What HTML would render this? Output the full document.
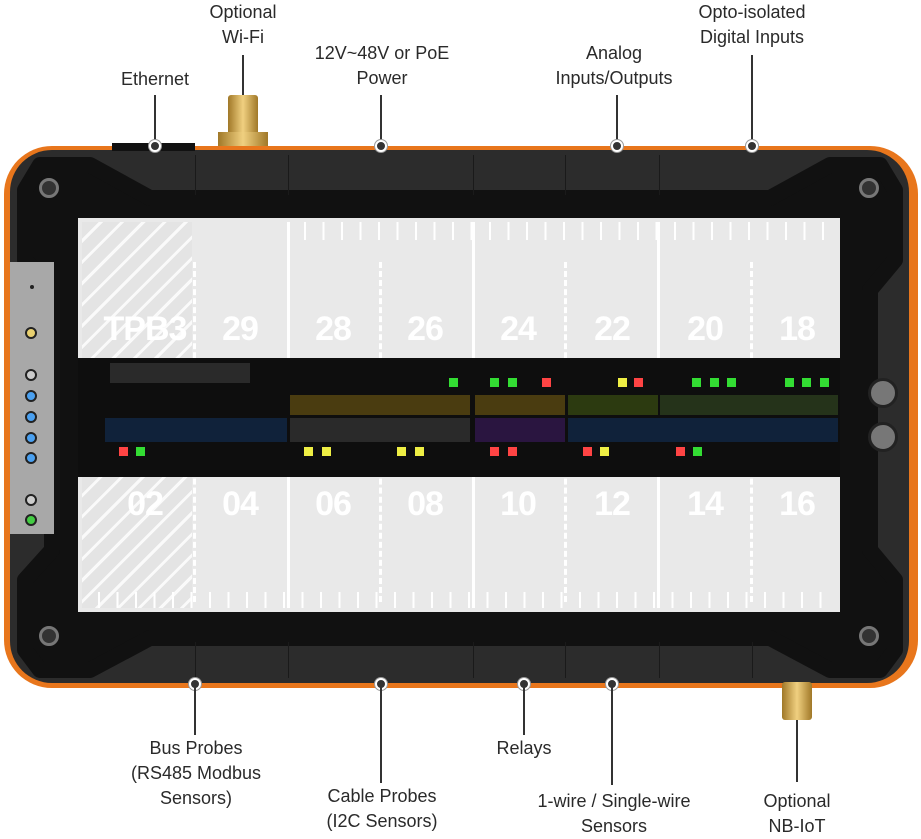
<!DOCTYPE html>
<html><head><meta charset="utf-8"><style>
body{margin:0;width:921px;height:836px;background:#fff;position:relative;overflow:hidden;font-family:"Liberation Sans",sans-serif}
div{position:absolute;box-sizing:border-box}
.lbl{color:#2a2a2a;font-size:18px;text-align:center;line-height:25px;white-space:nowrap;transform:translateX(-50%)}
.ln{width:2px;background:#333}
.dot{width:12px;height:12px;border-radius:50%;background:#333;border:2px solid #fff;box-shadow:0 0 0 1px #999}
.num{color:#fff;font-weight:bold;font-size:34px;transform:translateX(-50%);letter-spacing:-1px}
.sl{width:3px;background:#fff}
.dl{width:0;border-left:3px dashed #fff}
.led{width:9px;height:9px}
.sc{width:12px;height:12px;border-radius:50%;background:#222;border:2px solid #555}
.sd{width:20px;height:20px;border-radius:50%;background:#333;border:3px solid #777}
</style></head><body>
<!-- device -->
<div style="left:4px;top:146px;width:914px;height:542px;border-radius:48px;background:#e8761c"></div>
<div style="left:10px;top:150px;width:899px;height:533px;border-radius:42px;background:#2c2c2c"></div>
<svg style="position:absolute;left:0;top:0" width="921" height="836">
<polygon points="40,165 90,165 150,198 770,198 830,165 880,165 895,190 895,260 870,290 870,550 895,580 895,650 880,670 830,670 770,638 150,638 90,670 40,670 25,650 25,580 52,550 52,290 25,260 25,190" fill="#111" stroke="#111" stroke-width="16" stroke-linejoin="round"/>
</svg>
<!-- segment lines on bezel -->
<div style="left:195px;top:155px;width:1px;height:40px;background:#1a1a1a"></div>
<div style="left:288px;top:155px;width:1px;height:40px;background:#1a1a1a"></div>
<div style="left:473px;top:155px;width:1px;height:40px;background:#1a1a1a"></div>
<div style="left:565px;top:155px;width:1px;height:40px;background:#1a1a1a"></div>
<div style="left:659px;top:155px;width:1px;height:40px;background:#1a1a1a"></div>
<div style="left:195px;top:642px;width:1px;height:36px;background:#1a1a1a"></div>
<div style="left:288px;top:642px;width:1px;height:36px;background:#1a1a1a"></div>
<div style="left:473px;top:642px;width:1px;height:36px;background:#1a1a1a"></div>
<div style="left:565px;top:642px;width:1px;height:36px;background:#1a1a1a"></div>
<div style="left:659px;top:642px;width:1px;height:36px;background:#1a1a1a"></div>
<div style="left:752px;top:642px;width:1px;height:36px;background:#1a1a1a"></div>
<!-- screws -->
<div class="sd" style="left:39px;top:178px"></div>
<div class="sd" style="left:859px;top:178px"></div>
<div class="sd" style="left:39px;top:626px"></div>
<div class="sd" style="left:859px;top:626px"></div>
<!-- left strip -->
<div style="left:10px;top:262px;width:44px;height:272px;background:#a8a8a8"></div>
<div style="left:30px;top:285px;width:4px;height:4px;border-radius:50%;background:#222"></div>
<div class="sc" style="left:25px;top:327px;background:#e8d070;border-color:#222"></div>
<div class="sc" style="left:25px;top:369px;background:#ccc;border-color:#222"></div>
<div class="sc" style="left:25px;top:390px;background:#4aa0f0;border-color:#222"></div>
<div class="sc" style="left:25px;top:411px;background:#4aa0f0;border-color:#222"></div>
<div class="sc" style="left:25px;top:432px;background:#4aa0f0;border-color:#222"></div>
<div class="sc" style="left:25px;top:452px;background:#4aa0f0;border-color:#222"></div>
<div class="sc" style="left:25px;top:494px;background:#ccc;border-color:#222"></div>
<div class="sc" style="left:25px;top:514px;background:#4c4;border-color:#222"></div>
<!-- panel -->
<div style="left:78px;top:218px;width:762px;height:394px;background:#e9e9e9"></div>
<div style="left:82px;top:222px;width:110px;height:386px;background:repeating-linear-gradient(135deg,#e4e4e4 0 12px,#fafafa 12px 15px)"></div>
<div class="sl" style="left:287px;top:222px;height:386px"></div>
<div class="sl" style="left:472px;top:222px;height:386px"></div>
<div class="sl" style="left:657px;top:222px;height:386px"></div>
<div class="dl" style="left:193px;top:262px;height:340px"></div>
<div class="dl" style="left:379px;top:262px;height:340px"></div>
<div class="dl" style="left:564px;top:262px;height:340px"></div>
<div class="dl" style="left:750px;top:262px;height:340px"></div>
<div style="left:290px;top:222px;width:548px;height:18px;background:repeating-linear-gradient(90deg,transparent 0 14px,#fff 14px 16px,transparent 16px 18.5px)"></div>
<div style="left:84px;top:592px;width:754px;height:16px;background:repeating-linear-gradient(90deg,transparent 0 14px,#fff 14px 16px,transparent 16px 18.5px)"></div>
<div class="num" style="left:145px;top:310px">TPB3</div>
<div class="num" style="left:240px;top:310px">29</div>
<div class="num" style="left:333px;top:310px">28</div>
<div class="num" style="left:425px;top:310px">26</div>
<div class="num" style="left:518px;top:310px">24</div>
<div class="num" style="left:612px;top:310px">22</div>
<div class="num" style="left:705px;top:310px">20</div>
<div class="num" style="left:797px;top:310px">18</div>
<div class="num" style="left:145px;top:485px">02</div>
<div class="num" style="left:240px;top:485px">04</div>
<div class="num" style="left:333px;top:485px">06</div>
<div class="num" style="left:425px;top:485px">08</div>
<div class="num" style="left:518px;top:485px">10</div>
<div class="num" style="left:612px;top:485px">12</div>
<div class="num" style="left:705px;top:485px">14</div>
<div class="num" style="left:797px;top:485px">16</div>
<!-- band -->
<div style="left:78px;top:358px;width:762px;height:119px;background:#0e0e0e"></div>
<div style="left:290px;top:395px;width:180px;height:20px;background:#4a3c10"></div>
<div style="left:475px;top:395px;width:90px;height:20px;background:#4a3c10"></div>
<div style="left:568px;top:395px;width:90px;height:20px;background:#2c3a10"></div>
<div style="left:660px;top:395px;width:178px;height:20px;background:#25331a"></div>
<div style="left:105px;top:418px;width:182px;height:24px;background:#10223a"></div>
<div style="left:290px;top:418px;width:180px;height:24px;background:#2a2a2a"></div>
<div style="left:475px;top:418px;width:90px;height:24px;background:#2a1540"></div>
<div style="left:568px;top:418px;width:270px;height:24px;background:#10223a"></div>
<div style="left:110px;top:363px;width:140px;height:20px;background:#2a2a2a"></div>
<div class="led" style="left:119px;top:447px;background:#f44"></div>
<div class="led" style="left:136px;top:447px;background:#3d3"></div>
<div class="led" style="left:304px;top:447px;background:#ee4"></div>
<div class="led" style="left:322px;top:447px;background:#ee4"></div>
<div class="led" style="left:397px;top:447px;background:#ee4"></div>
<div class="led" style="left:415px;top:447px;background:#ee4"></div>
<div class="led" style="left:490px;top:447px;background:#f44"></div>
<div class="led" style="left:508px;top:447px;background:#f44"></div>
<div class="led" style="left:583px;top:447px;background:#f44"></div>
<div class="led" style="left:600px;top:447px;background:#ee4"></div>
<div class="led" style="left:676px;top:447px;background:#f44"></div>
<div class="led" style="left:693px;top:447px;background:#3d3"></div>
<div class="led" style="left:449px;top:378px;background:#3d3"></div>
<div class="led" style="left:490px;top:378px;background:#3d3"></div>
<div class="led" style="left:508px;top:378px;background:#3d3"></div>
<div class="led" style="left:542px;top:378px;background:#f44"></div>
<div class="led" style="left:618px;top:378px;background:#ee4"></div>
<div class="led" style="left:634px;top:378px;background:#f44"></div>
<div class="led" style="left:692px;top:378px;background:#3d3"></div>
<div class="led" style="left:710px;top:378px;background:#3d3"></div>
<div class="led" style="left:727px;top:378px;background:#3d3"></div>
<div class="led" style="left:785px;top:378px;background:#3d3"></div>
<div class="led" style="left:802px;top:378px;background:#3d3"></div>
<div class="led" style="left:820px;top:378px;background:#3d3"></div>
<!-- side connectors right -->
<div style="left:868px;top:378px;width:30px;height:30px;border-radius:50%;border:3px solid #222;background:#777"></div>
<div style="left:868px;top:422px;width:30px;height:30px;border-radius:50%;border:3px solid #222;background:#777"></div>
<!-- ethernet port -->
<div style="left:112px;top:143px;width:83px;height:8px;background:#111"></div>
<!-- antennas -->
<div style="left:228px;top:95px;width:30px;height:48px;background:linear-gradient(90deg,#a07828,#f0d080,#a07828);border-radius:3px"></div>
<div style="left:218px;top:132px;width:50px;height:14px;background:linear-gradient(90deg,#a07828,#f0d080,#a07828)"></div>
<div style="left:782px;top:682px;width:30px;height:38px;background:linear-gradient(90deg,#a07828,#f0d080,#a07828);border-radius:3px"></div>
<!-- labels & leaders -->
<div class="lbl" style="left:243px;top:0">Optional<br>Wi-Fi</div>
<div class="ln" style="left:242px;top:55px;height:40px"></div>
<div class="lbl" style="left:155px;top:67px">Ethernet</div>
<div class="ln" style="left:154px;top:95px;height:50px"></div><div class="dot" style="left:149px;top:140px"></div>
<div class="lbl" style="left:382px;top:41px">12V~48V or PoE<br>Power</div>
<div class="ln" style="left:380px;top:95px;height:50px"></div><div class="dot" style="left:375px;top:140px"></div>
<div class="lbl" style="left:614px;top:41px">Analog<br>Inputs/Outputs</div>
<div class="ln" style="left:616px;top:95px;height:50px"></div><div class="dot" style="left:611px;top:140px"></div>
<div class="lbl" style="left:752px;top:0">Opto-isolated<br>Digital Inputs</div>
<div class="ln" style="left:751px;top:55px;height:90px"></div><div class="dot" style="left:746px;top:140px"></div>
<div class="dot" style="left:189px;top:678px"></div><div class="ln" style="left:194px;top:685px;height:50px"></div>
<div class="lbl" style="left:196px;top:736px">Bus Probes<br>(RS485 Modbus<br>Sensors)</div>
<div class="dot" style="left:375px;top:678px"></div><div class="ln" style="left:380px;top:685px;height:98px"></div>
<div class="lbl" style="left:382px;top:784px">Cable Probes<br>(I2C Sensors)</div>
<div class="dot" style="left:518px;top:678px"></div><div class="ln" style="left:523px;top:685px;height:50px"></div>
<div class="lbl" style="left:524px;top:736px">Relays</div>
<div class="dot" style="left:606px;top:678px"></div><div class="ln" style="left:611px;top:685px;height:100px"></div>
<div class="lbl" style="left:614px;top:789px">1-wire / Single-wire<br>Sensors</div>
<div class="ln" style="left:796px;top:720px;height:62px"></div>
<div class="lbl" style="left:797px;top:789px">Optional<br>NB-IoT</div>
</body></html>
